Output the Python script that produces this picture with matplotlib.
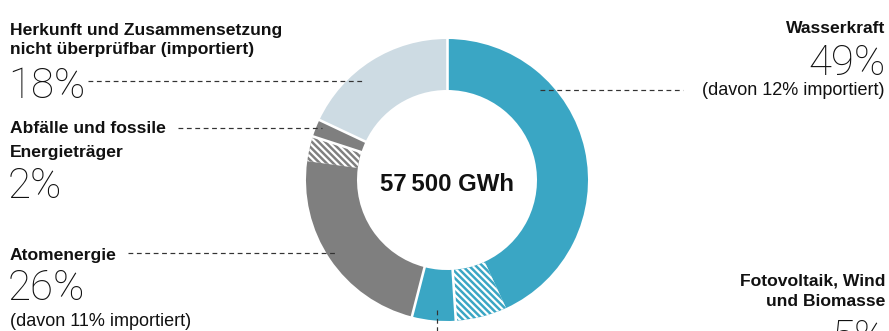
import matplotlib
matplotlib.use('Agg')
import matplotlib.pyplot as plt
import numpy as np

DPI = 100
W, H = 889, 331

def pt(px):
    # pixel size -> points at this dpi
    return px * 72 / DPI

# data: share of total (%) ; imported part as share of the category
categories = ['Wasserkraft', 'Fotovoltaik, Wind\nund Biomasse', 'Atomenergie',
              'Abfälle und fossile\nEnergieträger',
              'Herkunft und Zusammensetzung\nnicht überprüfbar (importiert)']
shares = [49, 5, 26, 2, 18]
imported_of = [12, 0, 11, 0, 0]   # "davon x% importiert"
total_gwh = '57\u2009500 GWh'

blue = '#3aa6c4'
grey = '#7f7f7f'
light = '#cddbe3'
cat_colors = [blue, blue, grey, grey, light]

# split categories into solid + hatched (imported) slices
values, colors, hatches = [], [], []
for s, imp, c in zip(shares, imported_of, cat_colors):
    part = s * imp / 100
    values.append(s - part); colors.append(c); hatches.append(None)
    if imp:
        values.append(part); colors.append(c); hatches.append('\\' * 5)

plt.rcParams['hatch.linewidth'] = 1.6
label_font = 'Liberation Sans'
big_font = 'Roboto'

fig = plt.figure(figsize=(W / DPI, H / DPI), dpi=DPI)
ax = fig.add_axes([0, 0, 1, 1])

cx, cy, r_out, ring = 447, H - 180, 141, 51
wedges, _ = ax.pie(values, colors=colors, startangle=90, counterclock=False,
                   radius=r_out, center=(cx, cy),
                   wedgeprops=dict(width=ring, linewidth=0, edgecolor='white'))
for w, h in zip(wedges, hatches):
    if h:
        w.set_hatch(h)

# white separators between categories
acc = 0
for s in shares:
    ang = np.deg2rad(90 - acc / 100 * 360)
    ax.plot([cx + (r_out - ring - 1) * np.cos(ang), cx + (r_out + 1) * np.cos(ang)],
            [cy + (r_out - ring - 1) * np.sin(ang), cy + (r_out + 1) * np.sin(ang)],
            color='white', lw=pt(2.6), solid_capstyle='butt')
    acc += s

ax.set_xlim(0, W)
ax.set_ylim(0, H)
ax.set_aspect('equal')
ax.axis('off')

def Y(y):
    return H - y

tc = '#111111'
bold = dict(family=label_font, fontweight='bold', fontsize=pt(17.5), color=tc, va='baseline')
big = dict(family=big_font, fontweight='light', fontsize=pt(42), color=tc, va='baseline')
small = dict(family=label_font, fontsize=pt(18), color=tc, va='baseline')
dash = dict(color='#333333', lw=pt(1.2), ls=(0, (4, 3)))

# center total
ax.text(cx, Y(191), total_gwh, ha='center', family=label_font, fontweight='bold',
        fontsize=pt(24), color=tc, va='baseline')

# Herkunft
ax.text(10, Y(35), 'Herkunft und Zusammensetzung', ha='left', **bold)
ax.text(10, Y(54), 'nicht überprüfbar (importiert)', ha='left', **bold)
ax.text(8, Y(98), f'{shares[4]}%', ha='left', **big)
ax.plot([88, 362], [Y(81), Y(81)], **dash)

# Abfälle
ax.text(10, Y(133), 'Abfälle und fossile', ha='left', **bold)
ax.text(10, Y(157), 'Energieträger', ha='left', **bold)
ax.text(8, Y(198), f'{shares[3]}%', ha='left', **big)
ax.plot([178, 322], [Y(128), Y(128)], **dash)

# Atomenergie
ax.text(10, Y(260), 'Atomenergie', ha='left', **bold)
ax.text(8, Y(300), f'{shares[2]}%', ha='left', **big)
ax.text(10, Y(326), f'(davon {imported_of[2]}% importiert)', ha='left', **small)
ax.plot([128, 335], [Y(253), Y(253)], **dash)

# Wasserkraft
ax.text(885, Y(33), 'Wasserkraft', ha='right', **bold)
ax.text(886, Y(75), f'{shares[0]}%', ha='right', **big)
ax.text(885, Y(95), f'(davon {imported_of[0]}% importiert)', ha='right', **small)
ax.plot([540, 683], [Y(90), Y(90)], **dash)

# Fotovoltaik
ax.text(885, Y(286), 'Fotovoltaik, Wind', ha='right', **bold)
ax.text(885, Y(306), 'und Biomasse', ha='right', **bold)
ax.text(886, Y(350), f'{shares[1]}%', ha='right', **big)
ax.plot([437, 437], [Y(310), Y(335)], **dash)

fig.savefig('out.png', dpi=DPI)
